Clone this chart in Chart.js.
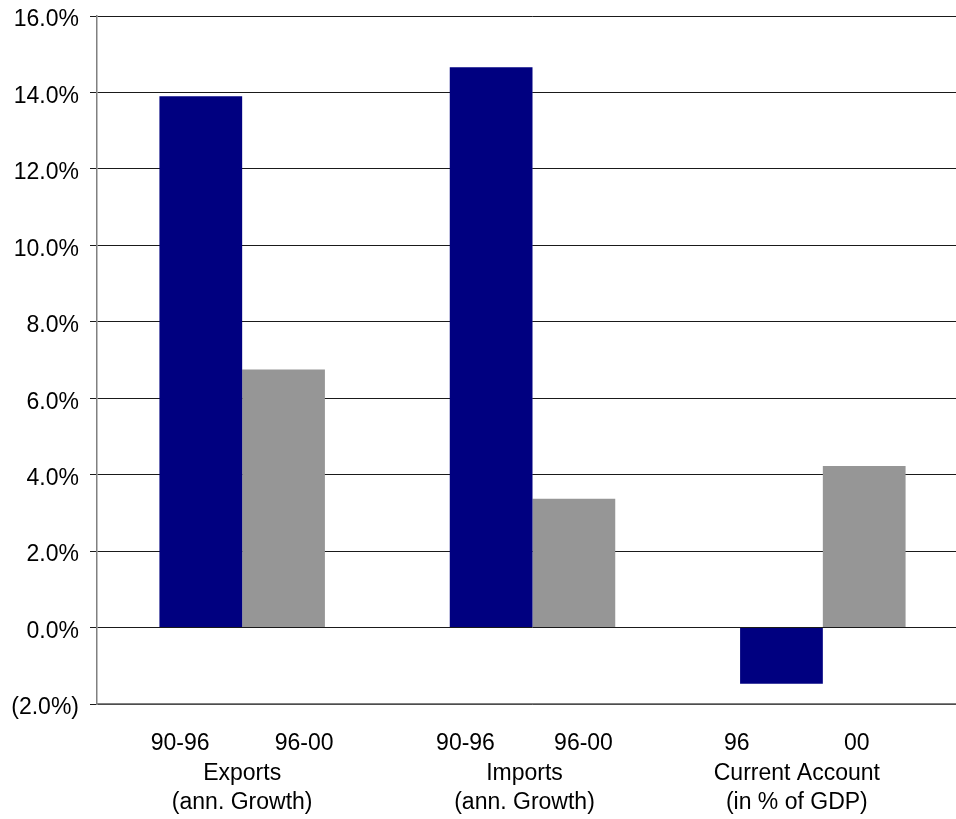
<!DOCTYPE html>
<html>
<head>
<meta charset="utf-8">
<script src="https://cdn.jsdelivr.net/npm/chart.js@4.4.1/dist/chart.umd.min.js"></script>
<style>
  html, body { margin: 0; padding: 0; background: #fff; overflow: hidden; }
  #wrap { width: 968px; height: 819px; position: relative; }
</style>
</head>
<body>
<div id="wrap"><canvas id="chart"></canvas></div>
<script>
// Trade indicators, growth rates and current account balance
const categories = [
  ["Exports", "(ann. Growth)"],
  ["Imports", "(ann. Growth)"],
  ["Current Account", "(in % of GDP)"]
];
// Period label for each series, per category
const periodLabels = [
  ["90-96", "96-00"],
  ["90-96", "96-00"],
  ["96", "00"]
];
const firstPeriod  = [13.9, 14.66, -1.47];   // 90-96 growth / 1996 balance
const secondPeriod = [6.75, 3.37, 4.23];     // 96-00 growth / 2000 balance

const yMin = -2, yMax = 16, yStep = 2;

const FONT = "'Liberation Sans', Arial, sans-serif";
const FONT_SIZE = 23;

// caption layout under the axis (pixels)
const captionShift = [0, -8, -26];     // horizontal nudge of each caption block
const periodHalfGap = [62, 59, 60];    // half distance between the two period labels
const lineOffsets = [40, 70, 99];      // vertical centre of each caption line below the axis

const formatPct = v => v < 0 ? "(" + Math.abs(v).toFixed(1) + "%)" : v.toFixed(1) + "%";

// Writes the three caption lines under every category
const captionPlugin = {
  id: "captions",
  afterDraw(chart) {
    const ctx = chart.ctx;
    const xs = chart.scales.x;
    const base = chart.chartArea.bottom;
    ctx.save();
    ctx.font = FONT_SIZE + "px " + FONT;
    ctx.fillStyle = "#000";
    ctx.textAlign = "center";
    ctx.textBaseline = "middle";
    categories.forEach((lines, i) => {
      const cx = xs.getPixelForTick(i) + captionShift[i];
      ctx.fillText(periodLabels[i][0], cx - periodHalfGap[i], base + lineOffsets[0]);
      ctx.fillText(periodLabels[i][1], cx + periodHalfGap[i], base + lineOffsets[0]);
      ctx.fillText(lines[0], cx, base + lineOffsets[1]);
      ctx.fillText(lines[1], cx, base + lineOffsets[2]);
    });
    ctx.restore();
  }
};

new Chart(document.getElementById("chart"), {
  type: "bar",
  data: {
    labels: categories.map(c => c.join(" ")),
    datasets: [
      { label: "first", data: firstPeriod, backgroundColor: "#000080" },
      { label: "second", data: secondPeriod, backgroundColor: "#969696" }
    ]
  },
  options: {
    responsive: true,
    maintainAspectRatio: false,
    animation: false,
    layout: { padding: { top: 16, left: 12, right: 0, bottom: 0 } },
    datasets: {
      bar: { categoryPercentage: 0.57, barPercentage: 1.0 }
    },
    plugins: {
      legend: { display: false },
      tooltip: { enabled: false }
    },
    scales: {
      x: {
        grid: { display: false, drawTicks: false },
        border: { display: true, color: "#808080", width: 1.5 },
        ticks: { display: false },
        afterFit(scale) { scale.height = 115; }
      },
      y: {
        min: yMin,
        max: yMax,
        grid: {
          color: "#1a1a1a",
          lineWidth: 1,
          tickLength: 7,
          tickColor: "#1a1a1a"
        },
        border: { display: true, color: "#808080", width: 1.5 },
        ticks: {
          stepSize: yStep,
          color: "#000",
          padding: 11,
          labelOffset: 4,
          font: { family: FONT, size: FONT_SIZE },
          callback: v => formatPct(v)
        },
        afterFit(scale) {
          scale.width = 85;
          scale.paddingTop = 0;
          scale.paddingBottom = 0;
        }
      }
    }
  },
  plugins: [captionPlugin]
});
</script>
</body>
</html>
